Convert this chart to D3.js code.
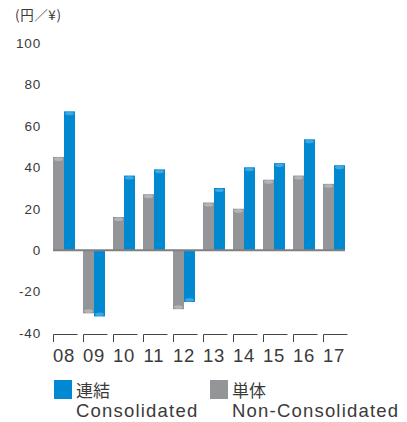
<!DOCTYPE html>
<meta charset="utf-8">
<head>
<script src="https://d3js.org/d3.v7.min.js"></script>
<style>
  body { margin: 0; background: #fff; }
  text { font-family: "Liberation Sans", Arial, "Noto Sans CJK JP", sans-serif; fill: #3a3a3a; }
</style>
</head>
<body>
<svg id="chart" width="407" height="422"></svg>
<script>

// data (yen)
var years = ["08", "09", "10", "11", "12", "13", "14", "15", "16", "17"];
var nonConsolidated = [45, -30.5, 16, 27, -28.5, 23, 20, 34, 36, 32];
var consolidated = [67, -32, 36, 39, -25, 30, 40, 42, 53.5, 41];
var yTicks = [-40, -20, 0, 20, 40, 60, 80, 100];

const BLUE = "#0088d1";
const GRAY = "#949599";

var svg = d3.select("#chart");

var x = d3.scaleBand()
    .domain(years)
    .range([53, 345])
    .paddingInner(0.2667)
    .paddingOuter(0);

var y = d3.scaleLinear()
    .domain([-40, 100])
    .range([333, 43]);

var bw = x.bandwidth() / 2;

// unit label
svg.append("text")
    .attr("x", 15).attr("y", 20)
    .attr("font-size", 13.5)
    .attr("letter-spacing", 0.6)
    .style("font-family", "'Noto Sans CJK JP', sans-serif")
    .text("(円／¥)");

// y tick labels
svg.append("g")
    .selectAll("text")
    .data(yTicks)
    .enter()
    .append("text")
    .attr("x", 41)
    .attr("y", d => y(d))
    .attr("dy", "0.36em")
    .attr("text-anchor", "end")
    .attr("font-size", 13.5)
    .attr("letter-spacing", 0.8)
    .text(d => d);

// bars
function drawSeries(values, offset, color, light) {
  var g = svg.append("g");
  g.selectAll("rect")
    .data(values)
    .enter()
    .append("rect")
    .attr("x", (d, i) => x(years[i]) + offset)
    .attr("y", d => y(Math.max(0, d)))
    .attr("width", bw)
    .attr("height", d => Math.abs(y(d) - y(0)))
    .attr("fill", color);

  // little rounded highlight on the bar end
  g.selectAll("ellipse")
    .data(values)
    .enter()
    .append("ellipse")
    .attr("cx", (d, i) => x(years[i]) + offset + bw / 2)
    .attr("cy", d => d >= 0 ? y(d) + 2.2 : y(d) - 2.2)
    .attr("rx", bw / 2 - 1)
    .attr("ry", 1.8)
    .attr("fill", light);
}

drawSeries(nonConsolidated, 0, GRAY, "#b3b4b7");
drawSeries(consolidated, bw, BLUE, "#3fa6e0");

// zero line
svg.append("line")
    .attr("x1", x.range()[0]).attr("x2", x.range()[1])
    .attr("y1", y(0)).attr("y2", y(0))
    .attr("stroke", "#808080")
    .attr("stroke-width", 2);

// bracket ticks under the plot
var br = svg.append("g").attr("stroke", "#444").attr("fill", "none").attr("stroke-width", 1);
years.forEach(function(yr) {
  var x0 = x(yr) + 0.5;
  br.append("path")
    .attr("d", "M" + x0 + ",342V334.5H" + (x0 + 24));
});

// x labels
svg.append("g")
    .selectAll("text")
    .data(years)
    .enter()
    .append("text")
    .attr("x", d => x(d) + x.bandwidth() / 2)
    .attr("y", 362)
    .attr("text-anchor", "middle")
    .attr("font-size", 18.5)
    .attr("letter-spacing", 0.8)
    .text(d => d);

// legend
var legend = [
  {color: BLUE, jp: "連結", en: "Consolidated", x: 54},
  {color: GRAY, jp: "単体", en: "Non-Consolidated", x: 210}
];

var lg = svg.append("g").selectAll("g")
    .data(legend)
    .enter()
    .append("g")
    .attr("transform", d => "translate(" + d.x + ",0)");

lg.append("rect")
    .attr("x", 0).attr("y", 380)
    .attr("width", 18).attr("height", 19)
    .attr("fill", d => d.color);

lg.append("text")
    .attr("x", 22).attr("y", 397)
    .attr("font-size", 17)
    .style("font-family", "'Noto Sans CJK JP', sans-serif")
    .text(d => d.jp);

lg.append("text")
    .attr("x", 22).attr("y", 417)
    .attr("font-size", 18.5)
    .attr("letter-spacing", 1.2)
    .text(d => d.en);

</script>
</body>
</html>
